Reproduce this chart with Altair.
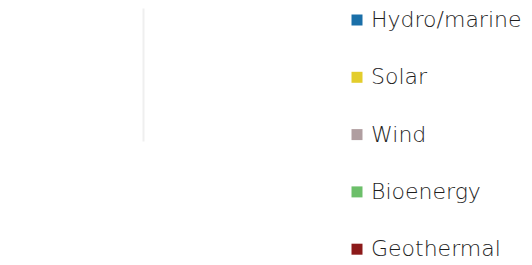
import altair as alt
import pandas as pd

sources = ["Hydro/marine", "Solar", "Wind", "Bioenergy", "Geothermal"]
colors = ["#1a6fa8", "#e3cd2c", "#b09ea0", "#6cbf6a", "#8c1a1a"]
values = [0, 0, 0, 0, 0]

df = pd.DataFrame({"source": sources, "value": values, "row": ["total"] * 5})

chart = alt.Chart(df).mark_bar().encode(
    x=alt.X("value:Q", stack=True,
            scale=alt.Scale(domain=[-1, 1], nice=False, zero=False),
            axis=alt.Axis(values=[0], grid=True, gridColor="#efefef", gridWidth=2,
                          labels=False, ticks=False, domain=False, title=None)),
    y=alt.Y("row:N", axis=None),
    color=alt.Color("source:N",
                    scale=alt.Scale(domain=sources, range=colors),
                    sort=sources,
                    legend=alt.Legend(title=None, orient="none", legendX=338, legendY=1,
                                      symbolType="square", symbolSize=121,
                                      symbolStrokeWidth=0, labelFontSize=22,
                                      labelFont="DejaVu Sans", labelFontWeight=200,
                                      labelColor="#1e1e1e", labelOffset=3,
                                      rowPadding=35.3, padding=0, labelLimit=300)),
).properties(width=270, height=133, padding=0).configure_view(stroke=None)

chart.save("out.html", embed_options={"renderer": "svg", "actions": False})
